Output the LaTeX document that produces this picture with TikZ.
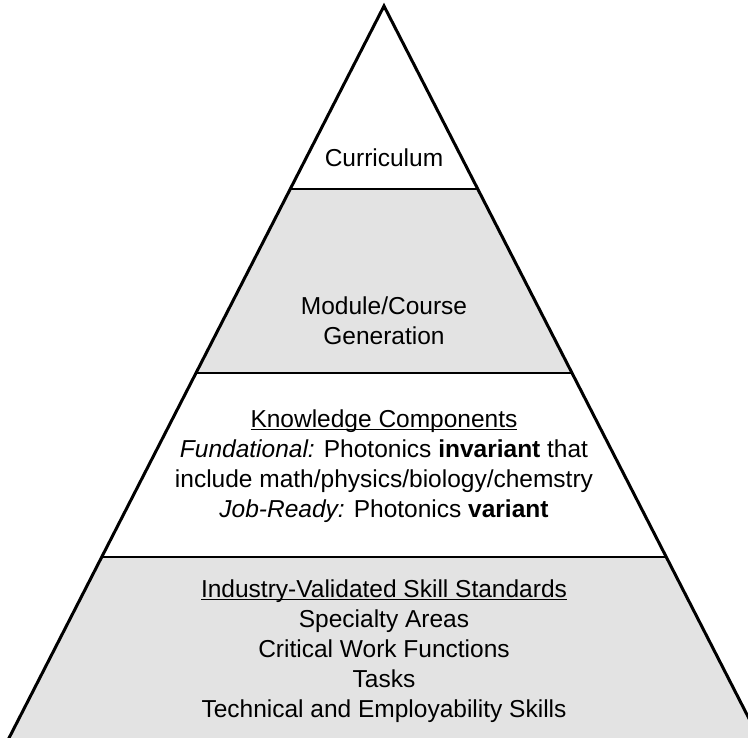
\documentclass[tikz,border=0pt]{standalone}
\usepackage{fontspec}
\setmainfont{Liberation Sans}
\usetikzlibrary{calc,positioning}
\tikzset{%
  font=\fontsize{24.5}{30}\selectfont,
  side/.style={draw,line width=3pt,line join=miter},
  band/.style={fill=black!11},
  divide/.style={draw,line width=2pt}
}
\newcommand{\headline}[1]{\underline{\smash{#1}}}
\begin{document}
\begin{tikzpicture}[x=1pt,y=-1pt,%
	t/.style={align=center,inner sep=0pt}]
	\useasboundingbox (0,0) rectangle (748,738);
	\clip (0,0) rectangle (748,738);
	% pyramid corners
	\coordinate (top) at (384,6);
	\coordinate (bl) at (8,740);
	\coordinate (br) at (760,740);
	% level cuts on both sides
	\foreach \f/\n in {0.25/a,0.5/b,0.75/c}{
		\coordinate (l\n) at ($(top)!\f!(bl)$);
		\coordinate (r\n) at ($(top)!\f!(br)$);
	}
	\fill[band] (la) -- (ra) -- (rb) -- (lb) -- cycle;
	\fill[band] (lc) -- (rc) -- (br) -- (bl) -- cycle;
	\draw[divide] (la) -- (ra);
	\draw[divide] (lb) -- (rb);
	\draw[divide] (lc) -- (rc);
	\draw[side] (bl) -- (top) -- (br);
	% labels
	\node[t] (curr) at (384,158) {Curriculum};
	\node[t] (module) at (384,321) {Module/Course\\Generation};
	\node[t] (know) at (384,475) {\headline{Knowledge Components}\\
		\textit{Fundational:} Photonics \textbf{invariant} that\\
		include math/physics/biology/chemstry\\
		\textit{Job-Ready:} Photonics \textbf{variant}};
	\node[t] (skills) at (384,660) {\headline{Industry-Validated Skill Standards}\\
		Specialty Areas\\
		Critical Work Functions\\
		Tasks\\
		Technical and Employability Skills};
\end{tikzpicture}
\end{document}
